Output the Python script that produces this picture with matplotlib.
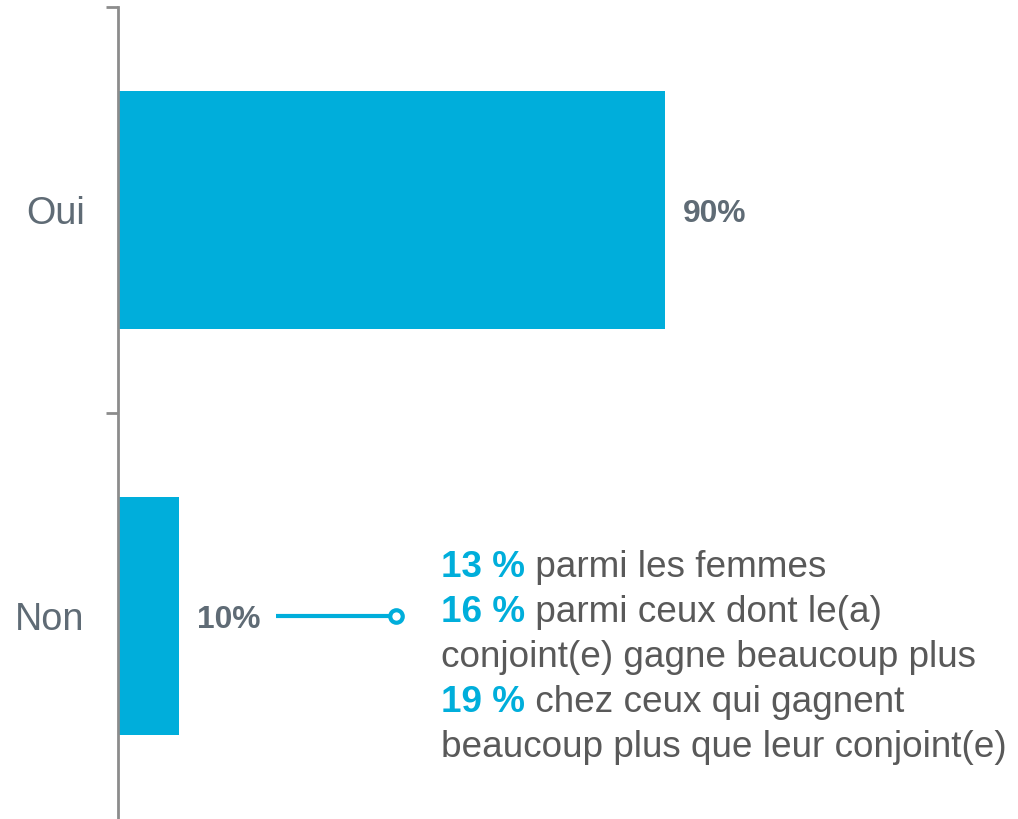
import matplotlib
matplotlib.use("Agg")
import matplotlib.pyplot as plt

categories = ["Non", "Oui"]
values = [10, 90]
value_labels = ["10%", "90%"]
note_highlights = ["13 %", "16 %", "", "19 %", ""]
note_texts = ["parmi les femmes", "parmi ceux dont le(a)",
              "conjoint(e) gagne beaucoup plus",
              "chez ceux qui gagnent",
              "beaucoup plus que leur conjoint(e)"]

BLUE = "#00AEDB"
AXGRAY = "#8C8C8C"
LABGRAY = "#5F6B75"
TXTGRAY = "#595959"

plt.rcParams['font.family'] = ['Liberation Sans', 'DejaVu Sans']

W, H, DPI = 1018, 819, 100
fig = plt.figure(figsize=(W / DPI, H / DPI), dpi=DPI)
ax = fig.add_axes([118 / W, 0, 1 - 118 / W, 1 - 7 / H])

y = list(range(len(categories)))
ax.barh(y, values, height=0.586, color=BLUE)
ax.set_xlim(0, 148.1)
ax.set_ylim(-0.5, 1.5)

for s in ["top", "right", "bottom"]:
    ax.spines[s].set_visible(False)
ax.spines["left"].set_color(AXGRAY)
ax.spines["left"].set_linewidth(2)
ax.set_xticks([])
ax.set_yticks(y)
ax.set_yticklabels(categories, fontsize=27.2, color=LABGRAY)
ax.tick_params(axis="y", which="major", length=0, pad=24)
ax.set_yticks([0.5, 1.5], minor=True)
ax.tick_params(axis="y", which="minor", length=9, width=2, color=AXGRAY)

for yi, v, lab in zip(y, values, value_labels):
    ax.annotate(lab, (v, yi), xytext=(13, -3), textcoords="offset points",
                ha="left", va="center", fontsize=22.9, fontweight="bold",
                color=LABGRAY)

# connector from the "Non" label to the note
ax.plot([26.0, 45.0], [0, 0], color=BLUE, lw=3, solid_capstyle="butt")
ax.plot([45.7], [0], marker="o", ms=9, mfc="white", mec=BLUE, mew=3)

# note text, line by line (pixel layout)
x0 = 441
base0 = 819 - 577
step = 45
fig.canvas.draw()
r = fig.canvas.get_renderer()
for i, (hl, tx) in enumerate(zip(note_highlights, note_texts)):
    yb = (base0 - i * step) / H
    xx = x0 / W
    if hl:
        t = fig.text(xx, yb, hl, fontsize=26.6, fontweight="bold", color=BLUE,
                     ha="left", va="baseline")
        bb = t.get_window_extent(renderer=r)
        xx = bb.x1 / W
        tx = " " + tx
    fig.text(xx, yb, tx, fontsize=26.6, color=TXTGRAY, ha="left", va="baseline")

fig.savefig("out.png", dpi=DPI)
